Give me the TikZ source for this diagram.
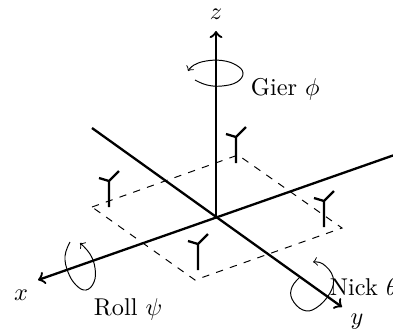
\documentclass[tikz,border=0pt]{standalone}
\begin{document}
\begin{tikzpicture}[x=0.4115pt,y=-0.4115pt,
  axisline/.style={line width=0.95pt,->},
  rotorline/.style={line width=0.95pt},
  frameline/.style={dashed,line width=0.4pt},
  turn/.style={line width=0.4pt,->},
  lab/.style={inner sep=0pt,anchor=base west},
  axlab/.style={inner sep=0pt}]
\useasboundingbox (0,0) rectangle (393,334);
\clip (0,0) rectangle (393,334);
\coordinate (O) at (216,217);
\coordinate (zend) at (216,31);
\coordinate (xend) at (38,280);
\coordinate (xback) at (400,153);
\coordinate (yend) at (342,307);
\coordinate (yback) at (92,128);
\coordinate (L) at (92,207);
\coordinate (B) at (195,280);
\coordinate (R) at (342,228);
\coordinate (T) at (238,155);
\draw[frameline] (L) -- (T) -- (R) -- (B) -- cycle;
\draw[axisline] (O) -- (zend);
\draw[axisline] (xback) -- (xend);
\draw[axisline] (yback) -- (yend);
\foreach \n/\x/\y in {a/236/163,b/109/207,c/324/227,d/198/270}{
  \coordinate (\n0) at (\x,\y);
  \coordinate (\n1) at (\x,\y-26);
  \coordinate (\n2) at (\x-10,\y-29);
  \coordinate (\n3) at (\x+10,\y-36);
  \draw[rotorline] (\n0) -- (\n1) (\n2) -- (\n1) -- (\n3);
}
\draw[turn] plot[smooth,tension=0.7] coordinates {(195,80) (207,85) (222,86) (237,82) (243,73) (236,65) (222,60.5) (206,61) (194,65) (188,71)};
\draw[turn] plot[smooth,tension=0.7] coordinates {(70,242) (65,256) (68,272) (76,285) (86,290) (94,282) (95,268) (90,254) (80,243)};
\draw[turn] plot[smooth,tension=0.7] coordinates {(300,277) (292,287) (292,299) (303,310) (316,308) (330,293) (333,277) (323,264) (313,262)};
\node[axlab] (zl) at (216,14) {$z$};
\node[axlab] (xl) at (21,295) {$x$};
\node[axlab] (yl) at (357,322) {$y$};
\node[lab] (g) at (250.5,95) {Gier $\phi$};
\node[lab] (r) at (93.5,315) {Roll $\psi$};
\node[lab] (n) at (329.5,295) {Nick $\theta$};
\end{tikzpicture}
\end{document}
